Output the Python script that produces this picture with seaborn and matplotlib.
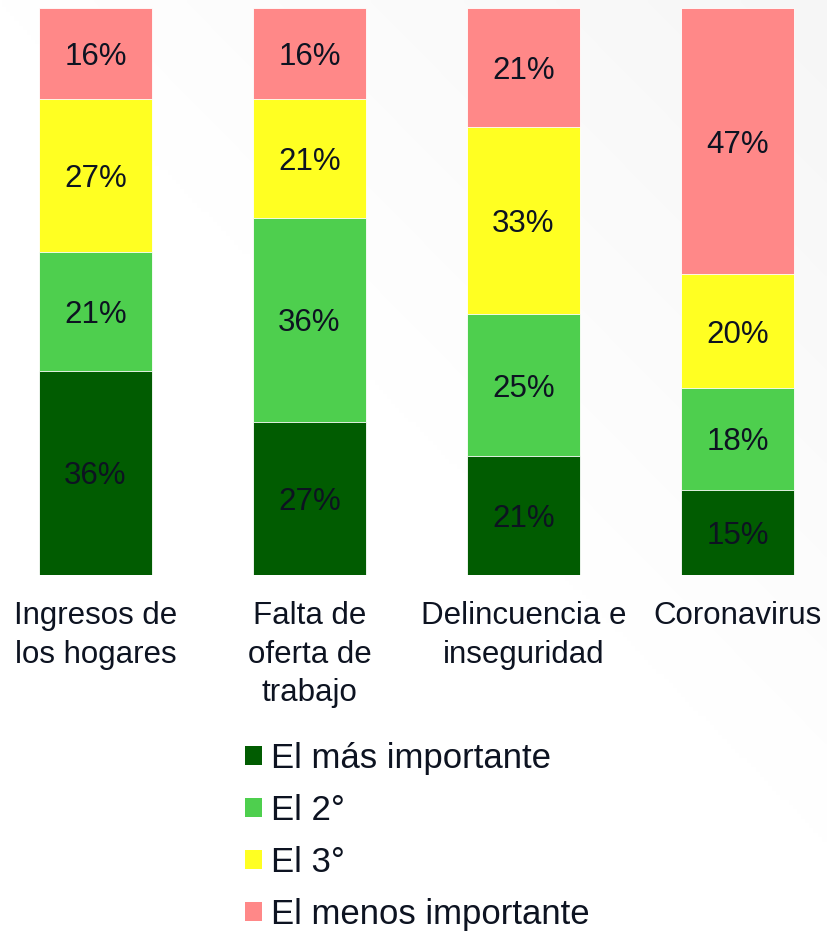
import matplotlib
matplotlib.use("Agg")
import matplotlib.pyplot as plt
import seaborn as sns
import pandas as pd
import numpy as np
from matplotlib.patches import Patch

categories = ["Ingresos de\nlos hogares", "Falta de\noferta de\ntrabajo",
              "Delincuencia e\ninseguridad", "Coronavirus"]
series_names = ["El más importante", "El 2°", "El 3°", "El menos importante"]
mas_importante = [36, 27, 21, 15]
segundo = [21, 36, 25, 18]
tercero = [27, 21, 33, 20]
menos_importante = [16, 16, 21, 47]
colors = ["#015C01", "#4ECF4E", "#FFFF22", "#FF8888"]
text_color = "#0D1321"

sns.set_theme(style="white")
plt.rcParams["font.family"] = ["Liberation Sans", "DejaVu Sans"]

series = [mas_importante, segundo, tercero, menos_importante]
df = pd.DataFrame({"cat": categories})
cum = np.zeros(len(categories))
for name, vals in zip(series_names, series):
    cum = cum + np.array(vals)
    df[name] = cum.copy()

fig = plt.figure(figsize=(8.28, 9.33), dpi=100)

# subtle background gradient (lighter grey toward bottom-right)
bg = fig.add_axes([0, 0, 1, 1], zorder=-10)
yy, xx = np.mgrid[0:1:200j, 0:1:200j]
g = np.clip((xx * 0.9 + (1 - yy) * 1.0 - 1.0) / 0.9, 0, 1)
shade = 1 - 0.035 * g
bg.imshow(np.dstack([shade, shade, shade]), extent=[0, 1, 0, 1], aspect="auto",
          origin="upper", interpolation="bilinear")
bg.axis("off")

ax = fig.add_axes([0, (933 - 575) / 933, 1, 567 / 933])

# draw from tallest cumulative to smallest
for name, color in reversed(list(zip(series_names, colors))):
    sns.barplot(data=df, x="cat", y=name, color=color, width=113 / 214,
                saturation=1, edgecolor="#FFFFFF", linewidth=0.6, ax=ax)

# segment labels
for i in range(len(categories)):
    bottom = 0
    for vals in series:
        v = vals[i]
        ax.text(i, bottom + v / 2, f"{v}%", ha="center", va="center_baseline",
                fontsize=22.5, color=text_color)
        bottom += v

ax.set_xlim(-95.5 / 214, (828 - 95.5) / 214)
ax.set_ylim(0, 100)
ax.set_xlabel("")
ax.set_ylabel("")
ax.set_yticks([])
ax.tick_params(axis="x", length=0, pad=19, labelsize=22.5, labelcolor=text_color)
for lab in ax.get_xticklabels():
    lab.set_linespacing(1.36)
    lab.set_va("top")
for s in ax.spines.values():
    s.set_visible(False)
ax.patch.set_alpha(0)

handles = [Patch(facecolor=c, edgecolor="none") for c in colors]
leg = fig.legend(handles, series_names, loc="upper left",
                 bbox_to_anchor=(231 / 828, 1 - 728 / 933),
                 frameon=False, fontsize=25, handlelength=0.49, handleheight=0.49,
                 handletextpad=0.25, labelspacing=0.545, borderaxespad=0)
for t in leg.get_texts():
    t.set_color(text_color)

fig.savefig("out.png", dpi=100)
